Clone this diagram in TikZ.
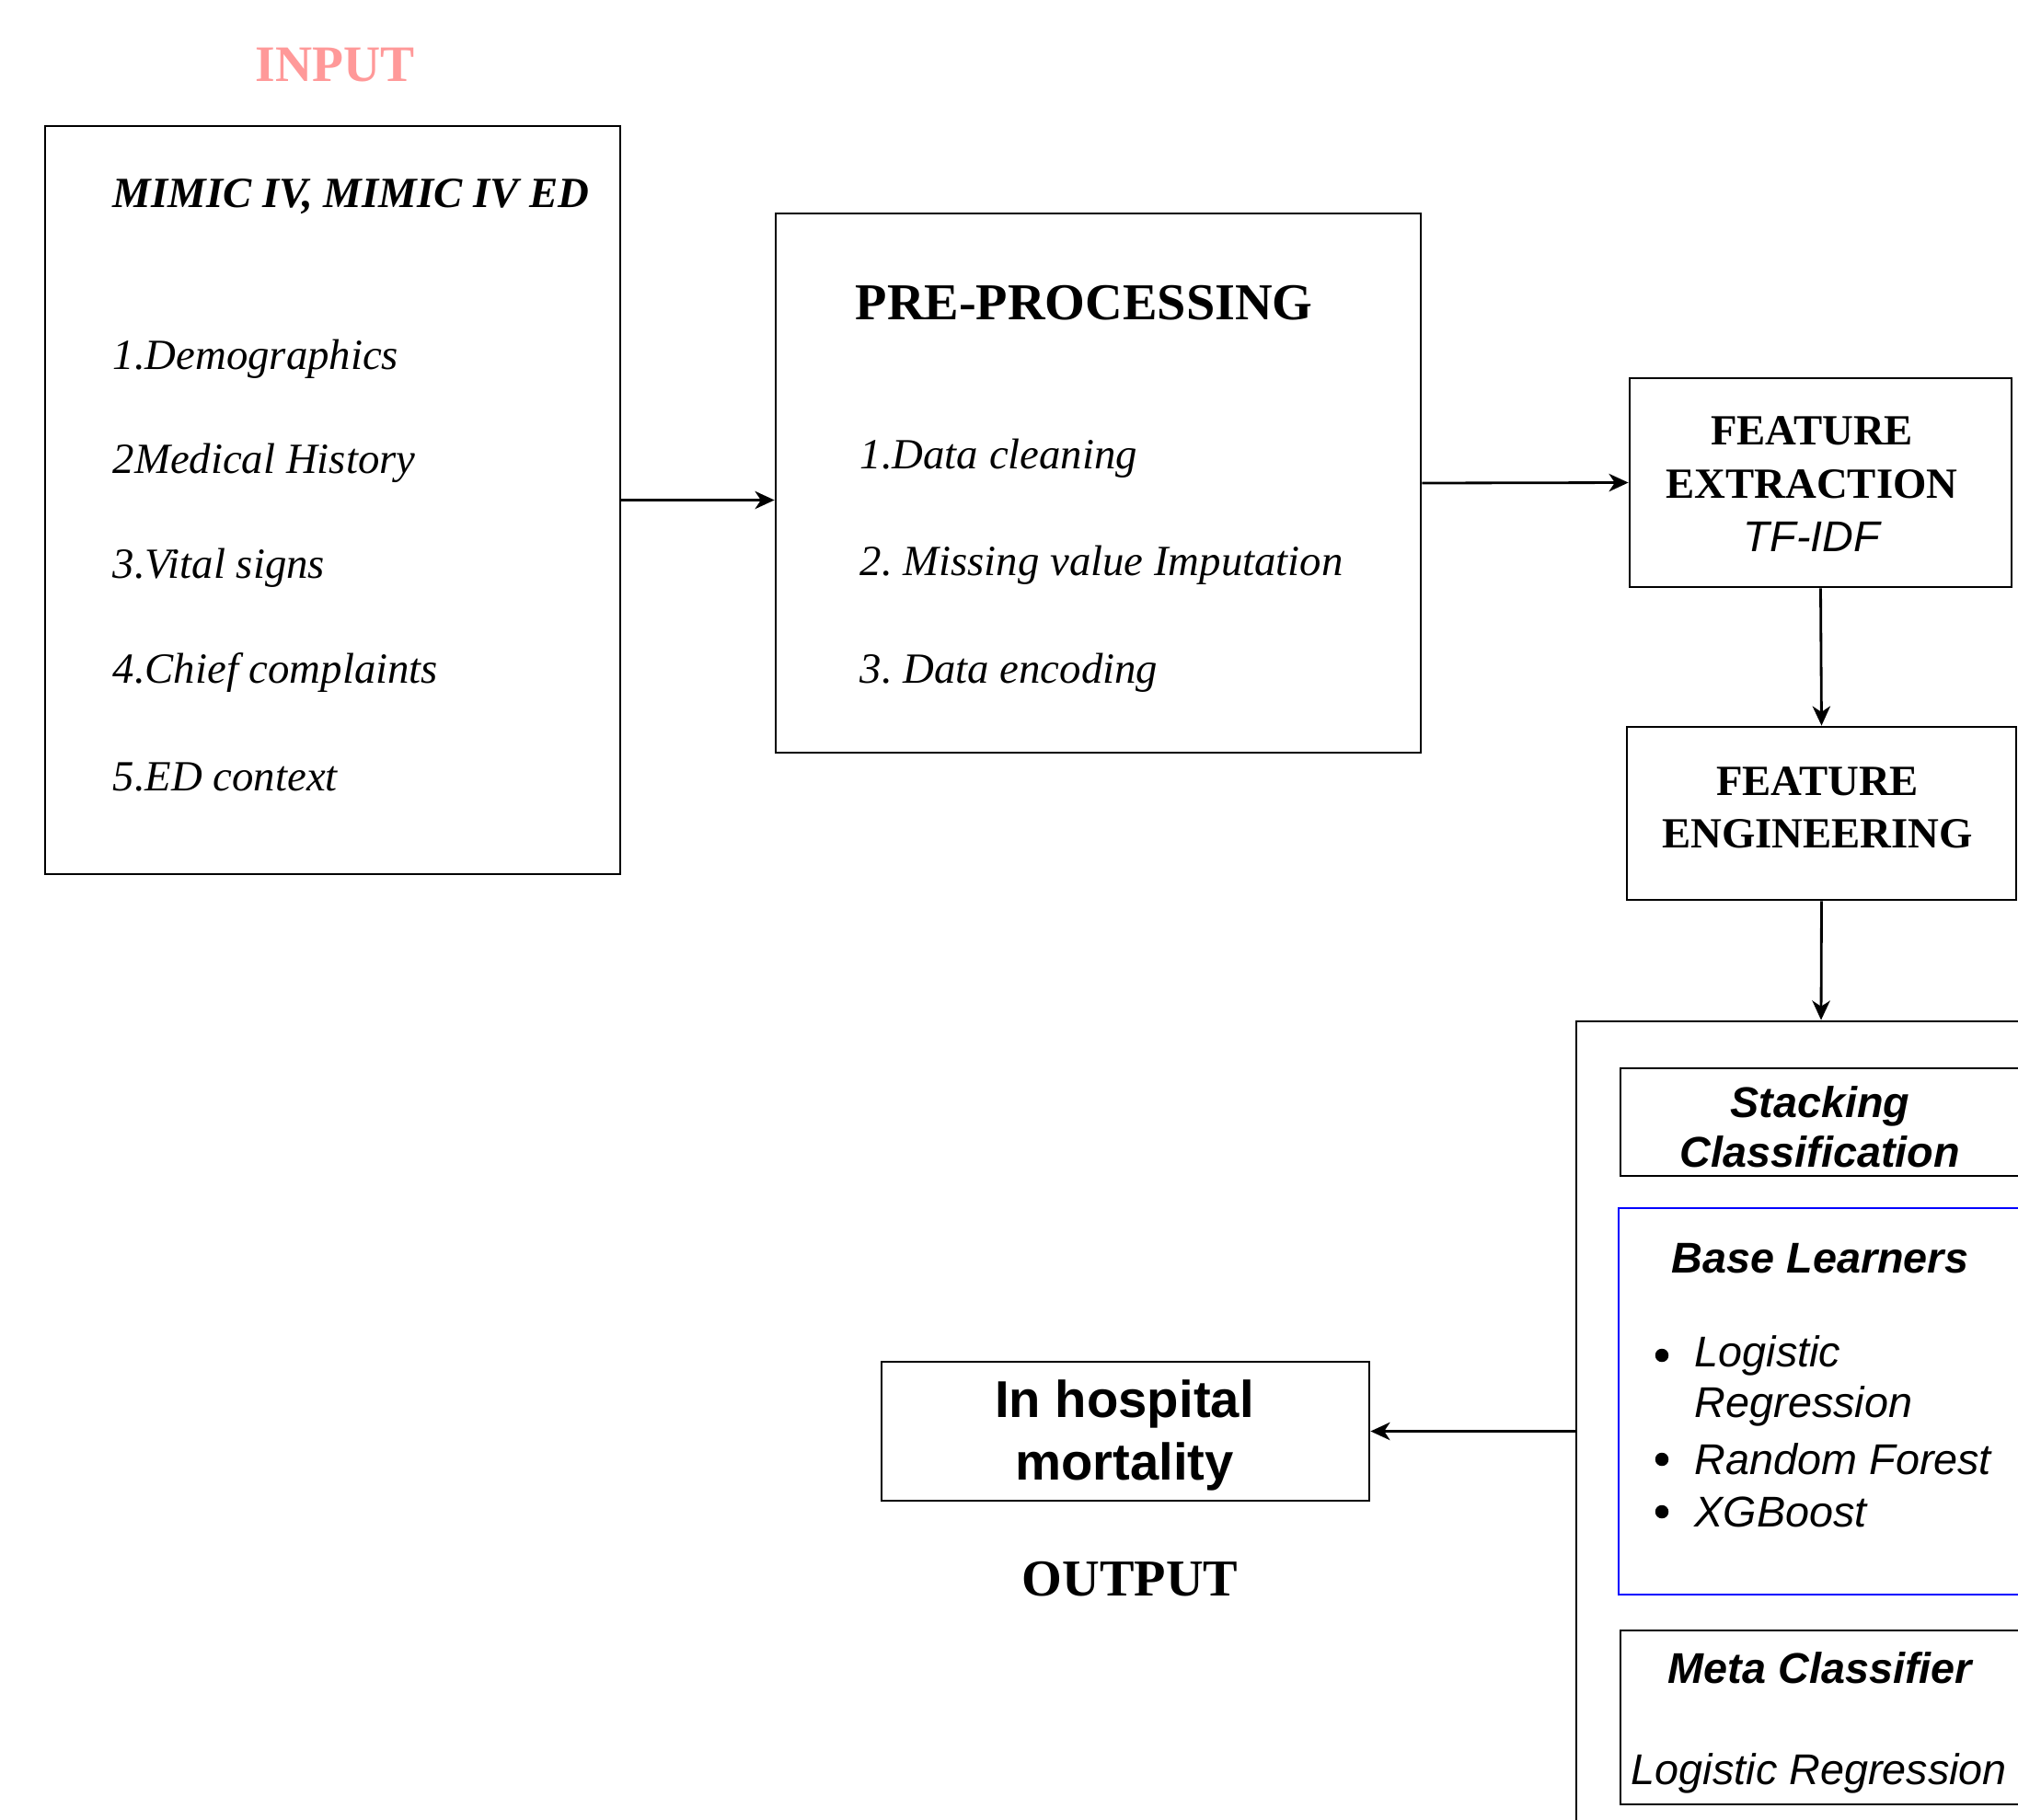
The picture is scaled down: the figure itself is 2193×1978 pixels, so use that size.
\documentclass[tikz,border=0pt]{standalone}
\usepackage{fontspec}
\setmainfont{Liberation Serif}
\setsansfont{Liberation Sans}
\usetikzlibrary{arrows.meta, fit, positioning}

\definecolor{inputpink}{HTML}{FF9999}
\definecolor{learnerblue}{HTML}{0000FF}

\tikzset{
  box/.style={draw=black, line width=0.8pt, inner sep=0pt},
  flow/.style={draw=black, line width=0.8pt, -{Stealth[length=6pt, width=5.5pt, inset=1.8pt]}},
  item/.style={font=\itshape\fontsize{13.3}{16}\selectfont, anchor=west, inner sep=0pt},
  head/.style={font=\bfseries\fontsize{13.3}{16.6}\selectfont, align=center, inner sep=0pt},
  sanshead/.style={font=\sffamily\bfseries\itshape\fontsize{13.3}{15.4}\selectfont, align=center, inner sep=0pt},
  sansitem/.style={font=\sffamily\itshape\fontsize{13.3}{16}\selectfont, anchor=west, inner sep=0pt},
  dot/.style={circle, fill=black, inner sep=0pt, minimum size=0.145cm}
}

\begin{document}
\frenchspacing
\begin{tikzpicture}[x=0.01cm, y=-0.01cm]
\useasboundingbox (0,0) rectangle (2193,1978);
\clip (0,0) rectangle (2193,1978);

% Boxes
\node[box, fit={(49,137) (674,950)}] (input) {};
\node[box, fit={(843,232) (1544,818)}] (prep) {};
\node[box, fit={(1771,411) (2186,638)}] (fext) {};
\node[box, fit={(1768,790) (2191,978)}] (feng) {};
\node[box, fit={(1713,1110) (2245,2010)}] (stack) {};
\node[box, fit={(1761,1161) (2196,1278)}] (stacktitle) {};
\node[box, draw=learnerblue, fit={(1759,1313) (2196,1733)}] (base) {};
\node[box, fit={(1761,1772) (2196,1961)}] (meta) {};
\node[box, fit={(958,1480) (1488,1631)}] (out) {};

% Input side
\node[font=\bfseries\fontsize{15.8}{19}\selectfont, text=inputpink, inner sep=0pt] (intitle) at (364,71) {INPUT};
\node[item, font=\bfseries\itshape\fontsize{13.3}{16}\selectfont] (mimic) at (122,214) {MIMIC IV, MIMIC IV ED};
\foreach \i/\y/\txt in {
  1/390/1.Demographics, 2/503/2Medical History, 3/617/3.Vital signs,
  4/731/4.Chief complaints, 5/845/5.ED context
} {
  \node[item] (in\i) at (122,\y) {\txt};
}

% Pre-processing
\node[head, anchor=west, font=\bfseries\fontsize{16}{19}\selectfont] (preptitle) at (929,329) {PRE-PROCESSING};
\foreach \i/\y/\txt in {
  1/498/1.Data cleaning, 2/614/2. Missing value Imputation, 3/731/3. Data encoding
} {
  \node[item] (pre\i) at (934,\y) {\txt};
}

% Features
\node[head] (fexttxt) at (1969,526) {FEATURE\\EXTRACTION\\{\sffamily\mdseries\itshape TF-IDF}};
\node[head, font=\bfseries\fontsize{13.3}{16.2}\selectfont] (fengtxt) at (1975,878) {FEATURE\\ENGINEERING};

% Stacking
\node[sanshead] (stacktxt) at (1978,1225) {Stacking\\Classification};
\node[sanshead] (basetxt) at (1978,1368) {Base Learners};
\foreach \i/\y/\txt in {
  1/1473/Logistic, 2/1586/Random Forest, 3/1643/XGBoost
} {
  \node[sansitem] (bl\i) at (1841,\y) {\txt};
  \node[dot] (dot\i) at (1806,\y) {};
}
\node[sansitem] (bl1b) at (1841,1528) {Regression};
\node[sanshead] (metatxt) at (1978,1813) {Meta Classifier};
\node[sansitem, anchor=center] (metalr) at (1977,1927) {Logistic Regression};

% Output
\node[font=\sffamily\bfseries\fontsize{16}{19.3}\selectfont, align=center, inner sep=0pt] (outtxt) at (1222,1560) {In hospital\\mortality};
\node[font=\bfseries\fontsize{16}{19}\selectfont, inner sep=0pt] (outtitle) at (1228,1716) {OUTPUT};

% Connectors
\draw[flow] (input.east) -- (input.east -| prep.west);
\draw[flow] (prep.east) -- (fext.west);
\draw[flow] (fext.south) -- (feng.north);
\draw[flow] (feng.south) -- (stack.north);
\draw[flow] (stack.west |- out.east) -- (out.east);

\end{tikzpicture}
\end{document}
